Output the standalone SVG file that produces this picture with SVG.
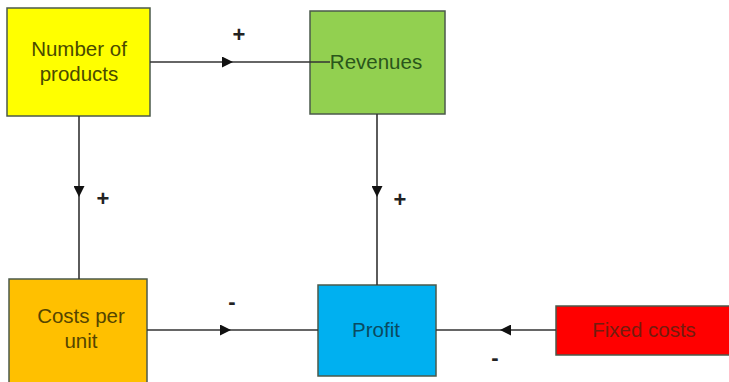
<svg xmlns="http://www.w3.org/2000/svg" width="729" height="382" viewBox="0 0 729 382">
<style>
.box{stroke:#4b5a4b;stroke-width:1.5}
.t{font-family:"Liberation Sans",Arial,sans-serif;font-size:20.5px;text-anchor:middle}
.c{fill:none;stroke:#333;stroke-width:1.6}
.s{font-family:"Liberation Sans",Arial,sans-serif;font-size:22px;text-anchor:middle;fill:#222;font-weight:bold}
</style>
<defs>
<marker id="ah" viewBox="0 0 10 10" refX="10" refY="5" markerWidth="11" markerHeight="11" markerUnits="userSpaceOnUse" orient="auto">
<path d="M0,0 L10,5 L0,10 Z" fill="#111"/>
</marker>
</defs>
<rect width="729" height="382" fill="#fff"/>
<g id="number-of-products">
<rect class="box" x="7" y="8" width="143" height="108" fill="#ffff00"/>
<text class="t" x="79" y="56" fill="#4a4a00">Number of</text>
<text class="t" x="79" y="81" fill="#4a4a00">products</text>
</g>
<g id="revenues">
<rect class="box" x="310" y="11" width="135" height="103" fill="#92d050"/>
<text class="t" x="376" y="69" fill="#2a561b">Revenues</text>
</g>
<g id="costs-per-unit">
<rect class="box" x="9" y="279" width="138" height="106" fill="#ffc000"/>
<text class="t" x="81" y="323" fill="#554500">Costs per</text>
<text class="t" x="81" y="348" fill="#554500">unit</text>
</g>
<g id="profit">
<rect class="box" x="318" y="285" width="118" height="91" fill="#00b0f0"/>
<text class="t" x="376" y="337" fill="#0a4a60">Profit</text>
</g>
<g id="fixed-costs">
<rect class="box" x="556" y="306" width="175" height="49" fill="#ff0000"/>
<text class="t" x="644" y="337" fill="#731c0e">Fixed costs</text>
</g>
<g id="connectors">
<path class="c" d="M150,62 L233,62 L330,62" marker-mid="url(#ah)"/>
<path class="c" d="M79,116 L79,197 L79,279" marker-mid="url(#ah)"/>
<path class="c" d="M377,114 L377,197 L377,285" marker-mid="url(#ah)"/>
<path class="c" d="M147,330 L231,330 L318,330" marker-mid="url(#ah)"/>
<path class="c" d="M556,330 L500,330 L436,330" marker-mid="url(#ah)"/>
<text class="s" x="239" y="42">+</text>
<text class="s" x="103" y="206">+</text>
<text class="s" x="400" y="207">+</text>
<text class="s" x="232" y="309">-</text>
<text class="s" x="495" y="365">-</text>
</g>
</svg>
